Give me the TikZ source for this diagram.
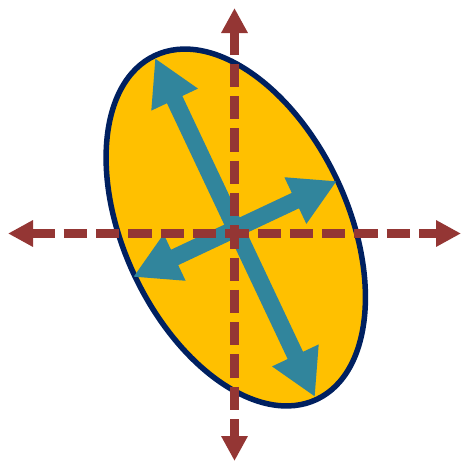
\documentclass[tikz,border=0pt]{standalone}
\usetikzlibrary{arrows.meta}
\definecolor{ellfill}{HTML}{FFC000}
\definecolor{ellline}{HTML}{002060}
\definecolor{tealarr}{HTML}{31859C}
\definecolor{axisred}{HTML}{943634}
\tikzset{
  axisline/.style={draw=axisred, line width=9pt, dash pattern=on 23.3pt off 9pt,
    {Triangle[length=25pt,width=25pt]}-{Triangle[length=25pt,width=25pt]}},
  eigarrow/.style={draw=tealarr, line width=17pt,
    {Triangle[length=46pt,width=48pt]}-{Triangle[length=46pt,width=48pt]}},
  ellshape/.style={fill=ellfill, draw=ellline, line width=5.5pt}
}
\begin{document}
\begin{tikzpicture}[x=1pt,y=-1pt]
\useasboundingbox (0,0) rectangle (462,461);
\draw[ellshape, shift={(235.75,227.5)}, rotate=-64.8] (0,0) ellipse [x radius=190pt, y radius=112pt];
\coordinate (ltop) at (155,58);
\coordinate (lbot) at (315,397);
\coordinate (sleft) at (133,277);
\coordinate (sright) at (337,181);
\draw[eigarrow] (ltop) -- (lbot);
\draw[eigarrow] (sleft) -- (sright);
\coordinate (axl) at (8,233.5);
\coordinate (axr) at (461,233.5);
\coordinate (axt) at (234.5,8);
\coordinate (axb) at (234.5,461);
\draw[axisline] (axl) -- (axr);
\draw[axisline] (axt) -- (axb);
\end{tikzpicture}
\end{document}
